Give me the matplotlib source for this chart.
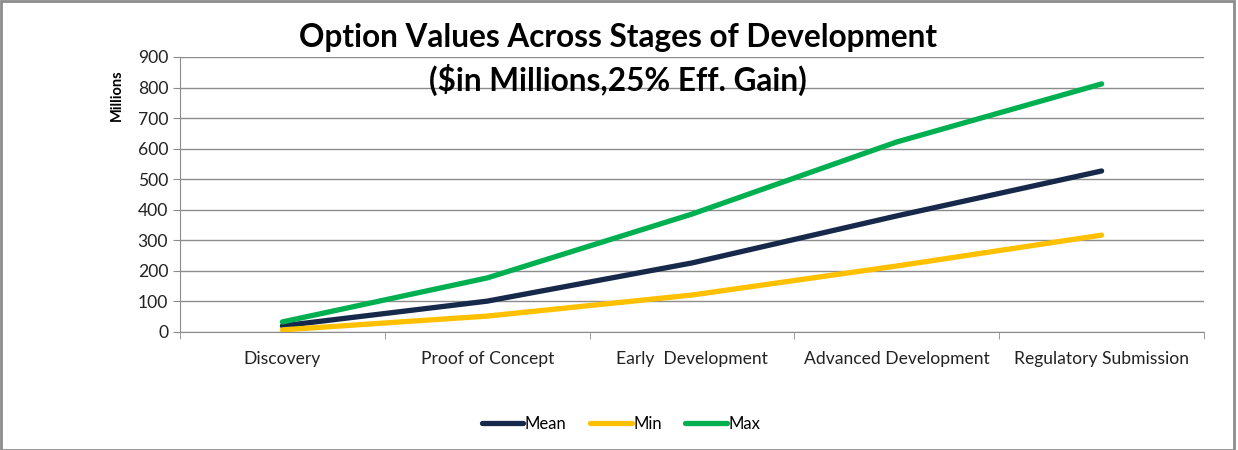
import numpy as np
import matplotlib.pyplot as plt
from matplotlib.patches import Rectangle

plt.rcParams['font.family'] = ['Lato', 'DejaVu Sans']

stages = ['Discovery', 'Proof of Concept', 'Early  Development',
          'Advanced Development', 'Regulatory Submission']
mean_vals = [20, 101, 226, 380, 527]
min_vals = [7, 52, 121, 216, 317]
max_vals = [33, 177, 386, 622, 812]

W, H = 1238, 450
fig = plt.figure(figsize=(W / 100, H / 100), dpi=100)
ax = fig.add_axes([180 / W, 1 - 332 / H, (1204 - 180) / W, (332 - 57) / H])

x = np.arange(len(stages))
ax.plot(x, mean_vals, color='#17294A', lw=3.8, solid_capstyle='round', label='Mean')
ax.plot(x, min_vals, color='#FFC000', lw=3.8, solid_capstyle='round', label='Min')
ax.plot(x, max_vals, color='#00B050', lw=3.8, solid_capstyle='round', label='Max')

ax.set_xlim(-0.5, len(stages) - 0.5)
ax.set_ylim(0, 900)
ax.set_yticks(range(0, 901, 100))
ax.yaxis.grid(True, color='#8c8c8c', lw=1)
ax.set_axisbelow(True)
ax.set_xticks(x)
ax.set_xticklabels(stages, fontsize=12.6, color='#222222')
ax.set_xticks(np.arange(-0.5, len(stages)), minor=True)
ax.tick_params(axis='x', which='major', length=0, pad=14)
ax.tick_params(axis='x', which='minor', length=5, color='#8c8c8c')
ax.tick_params(axis='y', length=5, color='#8c8c8c', labelsize=12.6, labelcolor='#222222')
for s in ['top', 'right']:
    ax.spines[s].set_visible(False)
ax.spines['left'].set_color('#8c8c8c')
ax.spines['bottom'].set_color('#8c8c8c')

fig.text(618 / W, 1 - 38 / H, 'Option Values Across Stages of Development',
         ha='center', va='center', fontsize=22.7, fontweight='bold')
fig.text(618 / W, 1 - 80 / H, '($in Millions,25% Eff. Gain)',
         ha='center', va='center', fontsize=22.7, fontweight='bold')
fig.text(117 / W, 1 - 95 / H, 'Millions', rotation=90, ha='center', va='center',
         fontsize=10.5, fontweight='bold')

fig.legend(loc='center', bbox_to_anchor=(621 / W, 1 - 424 / H), ncol=3, frameon=False,
           fontsize=12, handlelength=2.5, handletextpad=0.1, columnspacing=1.4)

fig.patches.append(Rectangle((0.001, 0.0), 1233 / W, 0.997, transform=fig.transFigure,
                             fill=False, edgecolor='#8c8c8c', lw=2))

fig.savefig('out.png', dpi=100)
